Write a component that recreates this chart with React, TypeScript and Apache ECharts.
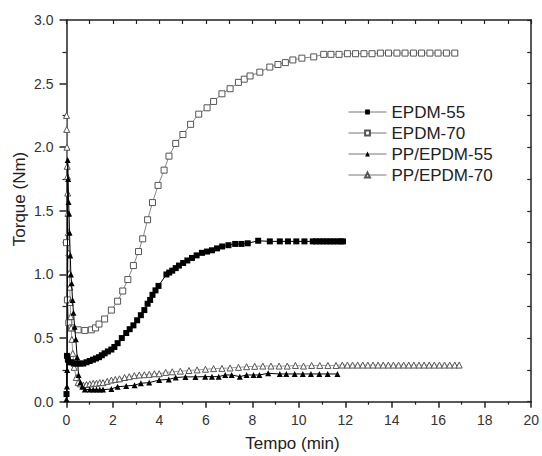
import React, { useEffect, useRef } from "react";
import * as echarts from "echarts";

const FONT = '"Liberation Sans", Arial, Helvetica, sans-serif';

const X_TITLE = "Tempo (min)";
const Y_TITLE = "Torque (Nm)";

const EPDM55: [number, number][] = [
  [0, 0.06], [0.02, 0.36], [0.06, 0.33], [0.12, 0.31], [0.22, 0.31], [0.32, 0.3], [0.45, 0.3],
  [0.58, 0.3], [0.72, 0.3], [0.86, 0.31], [1.0, 0.32], [1.14, 0.33], [1.27, 0.34], [1.4, 0.35],
  [1.52, 0.365], [1.64, 0.38], [1.78, 0.395], [1.93, 0.41], [2.06, 0.43], [2.2, 0.46], [2.38, 0.5],
  [2.57, 0.54], [2.72, 0.57], [2.88, 0.6], [3.04, 0.64], [3.2, 0.68], [3.35, 0.72], [3.49, 0.77],
  [3.6, 0.8], [3.7, 0.84], [3.83, 0.875], [3.96, 0.91], [4.3, 1.0], [4.42, 1.015], [4.55, 1.03],
  [4.7, 1.05], [4.84, 1.07], [5.02, 1.09], [5.2, 1.11], [5.4, 1.13], [5.6, 1.15], [5.83, 1.17],
  [6.05, 1.18], [6.26, 1.19], [6.48, 1.205], [6.7, 1.22], [6.97, 1.23], [7.26, 1.24], [7.53, 1.24],
  [7.8, 1.245], [8.25, 1.265], [8.75, 1.26], [9.18, 1.26], [9.53, 1.26], [9.89, 1.26], [10.24, 1.26],
  [10.6, 1.26], [10.75, 1.26], [10.9, 1.26], [11.05, 1.26], [11.2, 1.26], [11.35, 1.26], [11.5, 1.26],
  [11.65, 1.26], [11.8, 1.26], [11.9, 1.26],
];

const EPDM70: [number, number][] = [
  [0, 1.25], [0.04, 0.8], [0.1, 0.62], [0.22, 0.58], [0.5, 0.565], [0.79, 0.56], [1.07, 0.565],
  [1.25, 0.58], [1.4, 0.61], [1.64, 0.65], [1.93, 0.72], [2.2, 0.79], [2.42, 0.87], [2.64, 0.96],
  [2.88, 1.07], [3.1, 1.18], [3.28, 1.28], [3.49, 1.43], [3.7, 1.565], [3.94, 1.7], [4.2, 1.82],
  [4.41, 1.93], [4.7, 2.03], [5.01, 2.1], [5.34, 2.18], [5.69, 2.26], [6.05, 2.31], [6.33, 2.36],
  [6.69, 2.42], [7.04, 2.46], [7.4, 2.51], [7.65, 2.535], [7.9, 2.56], [8.32, 2.59], [8.75, 2.63],
  [9.1, 2.65], [9.42, 2.665], [9.74, 2.686], [10.13, 2.7], [10.64, 2.71], [11.07, 2.73], [11.38, 2.73],
  [11.73, 2.73], [12.09, 2.735], [12.44, 2.735], [12.8, 2.735], [13.15, 2.735], [13.51, 2.74],
  [13.86, 2.74], [14.22, 2.74], [14.57, 2.74], [14.93, 2.74], [15.28, 2.74], [15.64, 2.74],
  [15.99, 2.74], [16.35, 2.74], [16.71, 2.74],
];

const PP_EPDM55: [number, number][] = [
  [0, 0.02], [0.02, 0.12], [0.03, 0.25], [0.05, 1.9], [0.07, 1.75], [0.09, 1.57], [0.11, 1.48],
  [0.13, 1.33], [0.16, 1.15], [0.19, 1.0], [0.22, 0.93], [0.26, 0.8], [0.3, 0.7], [0.35, 0.59],
  [0.4, 0.49], [0.46, 0.35], [0.52, 0.21], [0.6, 0.15], [0.68, 0.118], [0.79, 0.095], [1.0, 0.095],
  [1.15, 0.095], [1.29, 0.095], [1.43, 0.095], [1.57, 0.095], [1.93, 0.1], [2.2, 0.118],
  [2.57, 0.123], [2.93, 0.13], [3.2, 0.145], [3.56, 0.15], [3.99, 0.17], [4.4, 0.175], [4.7, 0.19],
  [5.12, 0.195], [5.55, 0.195], [5.97, 0.197], [6.26, 0.197], [6.55, 0.197], [6.83, 0.21],
  [7.11, 0.21], [7.46, 0.197], [7.75, 0.21], [8.05, 0.21], [8.3, 0.21], [8.68, 0.223], [9.18, 0.218],
  [9.46, 0.218], [9.82, 0.218], [10.17, 0.218], [10.52, 0.218], [10.88, 0.218], [11.24, 0.218],
  [11.66, 0.218],
];

const PP_EPDM70: [number, number][] = [
  [0, 2.25], [0.01, 2.14], [0.02, 2.0], [0.03, 1.85], [0.04, 1.77], [0.05, 1.64], [0.06, 1.48],
  [0.08, 1.33], [0.1, 1.17], [0.12, 1.01], [0.14, 0.9], [0.16, 0.78], [0.18, 0.67], [0.2, 0.58],
  [0.23, 0.49], [0.27, 0.38], [0.33, 0.27], [0.42, 0.19], [0.5, 0.15], [0.6, 0.14], [0.72, 0.13],
  [0.86, 0.135], [1.0, 0.14], [1.15, 0.145], [1.29, 0.145], [1.43, 0.15], [1.57, 0.15], [1.75, 0.16],
  [1.93, 0.17], [2.1, 0.175], [2.28, 0.18], [2.5, 0.19], [2.7, 0.197], [2.92, 0.205], [3.13, 0.21],
  [3.35, 0.212], [3.56, 0.215], [3.78, 0.22], [3.99, 0.22], [4.27, 0.23], [4.55, 0.235], [4.9, 0.24],
  [5.27, 0.245], [5.62, 0.25], [5.98, 0.255], [6.33, 0.26], [6.69, 0.262], [7.04, 0.265],
  [7.4, 0.27], [7.75, 0.275], [8.1, 0.278], [8.45, 0.28], [8.8, 0.28], [9.15, 0.28], [9.5, 0.28],
  [9.85, 0.285], [10.2, 0.28], [10.55, 0.285], [10.9, 0.285], [11.25, 0.285], [11.6, 0.285],
  [11.87, 0.288], [12.09, 0.288], [12.31, 0.288], [12.53, 0.288], [12.75, 0.288], [12.97, 0.288],
  [13.19, 0.288], [13.41, 0.288], [13.63, 0.288], [13.85, 0.288], [14.07, 0.288], [14.29, 0.288],
  [14.51, 0.288], [14.73, 0.288], [14.95, 0.288], [15.17, 0.288], [15.39, 0.288], [15.61, 0.288],
  [15.83, 0.288], [16.05, 0.288], [16.27, 0.288], [16.49, 0.288], [16.71, 0.288], [16.9, 0.288],
];

const SERIES_NAMES = ["EPDM-55", "EPDM-70", "PP/EPDM-55", "PP/EPDM-70"];

export default function App() {
  const ref = useRef<HTMLDivElement>(null);

  useEffect(() => {
    document.body.style.margin = "0";
    if (!ref.current) return;
    const chart = echarts.init(ref.current, null, { renderer: "svg" });

    const axisColor = "#222";
    const labelStyle = { fontSize: 14, color: "#333", fontFamily: FONT };

    chart.setOption({
      animation: false,
      backgroundColor: "#fff",
      grid: { left: 66.5, right: 6.5, top: 20, bottom: 54.3 },
      legend: {
        orient: "vertical",
        left: 343,
        top: 98,
        itemWidth: 38,
        itemHeight: 6,
        itemGap: 3,
        data: SERIES_NAMES,
        lineStyle: { width: 1, color: "#777" },
        textStyle: { fontSize: 17, color: "#222", fontFamily: FONT, lineHeight: 18 },
      },
      xAxis: [
        {
          type: "value",
          position: "bottom",
          min: 0,
          max: 20,
          interval: 2,
          axisLine: { show: true, onZero: false, lineStyle: { color: axisColor, width: 1.5 } },
          axisTick: { show: true, inside: false, length: 6, lineStyle: { color: axisColor, width: 1.5 } },
          minorTick: { show: true, splitNumber: 2, length: 3, lineStyle: { color: axisColor, width: 1.2 } },
          splitLine: { show: false },
          axisLabel: { ...labelStyle, margin: 11 },
        },
        {
          type: "value",
          position: "top",
          min: 0,
          max: 20,
          interval: 1,
          axisLine: { show: true, onZero: false, lineStyle: { color: axisColor, width: 1.5 } },
          axisTick: { show: true, inside: true, length: 4, lineStyle: { color: axisColor, width: 1.2 } },
          splitLine: { show: false },
          axisLabel: { show: false },
        },
      ],
      yAxis: [
        {
          type: "value",
          position: "left",
          min: 0,
          max: 3,
          interval: 0.5,
          axisLine: { show: true, onZero: false, lineStyle: { color: axisColor, width: 1.5 } },
          axisTick: { show: true, inside: false, length: 7, lineStyle: { color: axisColor, width: 1.5 } },
          minorTick: { show: true, splitNumber: 2, length: 4, lineStyle: { color: axisColor, width: 1.2 } },
          splitLine: { show: false },
          axisLabel: { ...labelStyle, margin: 13, formatter: (v: number) => v.toFixed(1) },
        },
        {
          type: "value",
          position: "right",
          min: 0,
          max: 3,
          interval: 0.25,
          axisLine: { show: true, onZero: false, lineStyle: { color: axisColor, width: 1.5 } },
          axisTick: { show: true, inside: true, length: 4, lineStyle: { color: axisColor, width: 1.2 } },
          splitLine: { show: false },
          axisLabel: { show: false },
        },
      ],
      graphic: [
        {
          type: "text",
          x: 292.5,
          y: 443,
          style: {
            text: X_TITLE,
            font: `17px ${FONT}`,
            fill: "#222",
            textAlign: "center",
            textVerticalAlign: "middle",
          },
        },
        {
          type: "text",
          x: 19,
          y: 199,
          rotation: Math.PI / 2,
          style: {
            text: Y_TITLE,
            font: `17px ${FONT}`,
            fill: "#222",
            textAlign: "center",
            textVerticalAlign: "middle",
          },
        },
      ],
      series: [
        {
          name: SERIES_NAMES[0],
          type: "line",
          data: EPDM55,
          symbol: "rect",
          symbolSize: 6,
          showAllSymbol: true,
          lineStyle: { color: "#000", width: 1 },
          itemStyle: { color: "#000" },
          z: 3,
        },
        {
          name: SERIES_NAMES[1],
          type: "line",
          data: EPDM70,
          symbol: "rect",
          symbolSize: 6,
          showAllSymbol: true,
          lineStyle: { color: "#888", width: 1 },
          itemStyle: { color: "#fff", borderColor: "#555", borderWidth: 1 },
          z: 2,
        },
        {
          name: SERIES_NAMES[2],
          type: "line",
          data: PP_EPDM55,
          symbol: "triangle",
          symbolSize: 6,
          showAllSymbol: true,
          lineStyle: { color: "#000", width: 1 },
          itemStyle: { color: "#000" },
          z: 3,
        },
        {
          name: SERIES_NAMES[3],
          type: "line",
          data: PP_EPDM70,
          symbol: "triangle",
          symbolSize: 6,
          showAllSymbol: true,
          lineStyle: { color: "#999", width: 1 },
          itemStyle: { color: "#fff", borderColor: "#555", borderWidth: 1 },
          z: 2,
        },
      ],
    });

    return () => chart.dispose();
  }, []);

  return <div ref={ref} style={{ width: 542, height: 456 }} />;
}
